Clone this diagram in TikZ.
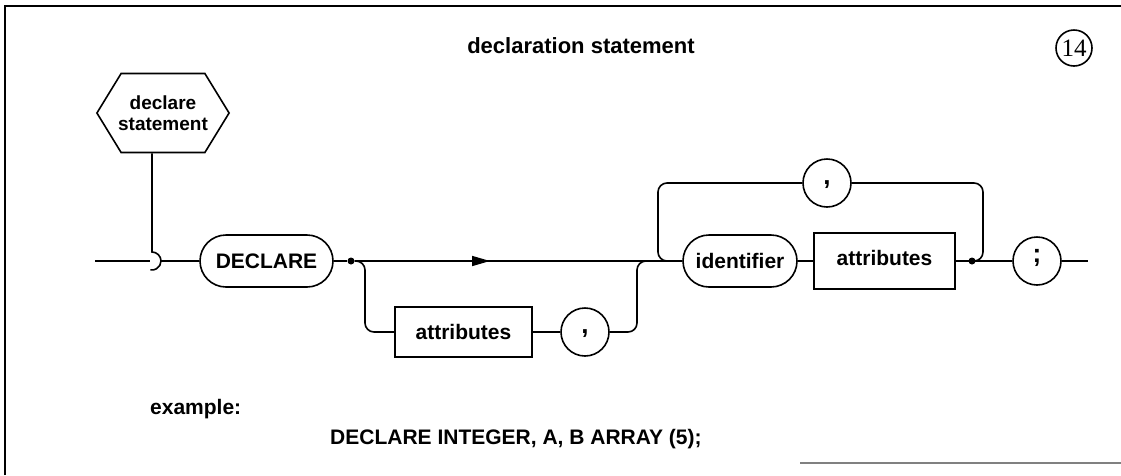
\documentclass[tikz,border=0pt]{standalone}
\usepackage{fontspec}
\setmainfont{Liberation Sans}
\newfontfamily\numfont{Liberation Serif}
\usepackage{tikz}
\usetikzlibrary{shapes.misc,shapes.symbols,arrows.meta,calc}

\tikzset{
  syn/.style={line width=1.6pt},
  term/.style={syn,draw,rounded rectangle,minimum height=52pt,inner sep=0pt,font=\fontsize{21}{22}\bfseries},
  nonterm/.style={syn,draw,rectangle,inner sep=0pt,font=\fontsize{21}{22}\bfseries},
  sym/.style={syn,draw,circle,minimum size=48pt,inner sep=0pt,text height=2pt,text depth=0pt,font=\fontsize{26}{26}\bfseries},
  junc/.style={circle,fill,inner sep=0pt,minimum size=7pt},
  lbl/.style={font=\fontsize{21}{22}\bfseries,inner sep=0pt}
}

\begin{document}
\begin{tikzpicture}[x=1pt,y=-1pt]
  \useasboundingbox (0,0) rectangle (1121,475);
  % frame
  \draw[line width=2.4pt] (5,475) -- (5,6) -- (1121,6);
  \draw[line width=1.2pt,gray] (800,463) -- (1121,463);

  \node[lbl,font=\fontsize{22}{22}\bfseries] (title) at (581,46) {declaration statement};
  \node[syn,draw,circle,minimum size=36pt,inner sep=0pt,font=\numfont\fontsize{25}{25}\selectfont] (num) at (1074,48) {14};

  \node[syn,draw,signal,signal to=east and west,signal pointer angle=117,
        minimum height=79pt,inner xsep=-3pt,inner ysep=0pt,align=center,
        font=\fontsize{19}{21}\bfseries] (decl) at (163,113) {declare\\statement};

  \coordinate (start) at (95,261);
  \coordinate (hop) at (152,261);
  \node[term,minimum width=133pt] (declare) at (266.5,261) {DECLARE};
  \node[junc] (dot1) at (351,261) {};
  \coordinate (tip) at (490,261);
  \node[nonterm,minimum width=137pt,minimum height=50pt] (attr1) at (463.5,332) {attributes};
  \node[sym] (comma1) at (585,332) {,};
  \node[term,minimum width=114pt] (ident) at (740,261) {identifier};
  \node[nonterm,minimum width=141pt,minimum height=56pt,text depth=6pt] (attr2) at (884.5,261) {attributes};
  \node[junc] (dot2) at (972,261) {};
  \node[sym] (comma2) at (827,183) {,};
  \node[sym] (semi) at (1037,261) {;};
  \coordinate (end) at (1088,261);

  % entry
  \draw[syn] (decl.south -| hop) -- ($(hop)+(0,-9)$) arc[start angle=-90,end angle=100,radius=9];
  \draw[syn] (start) -- ($(hop)+(-2,0)$);
  \draw[syn] ($(hop)+(9,0)$) -- (declare.west);
  \draw[syn] (declare.east) -- (dot1);
  \draw[syn] (dot1) -- (ident.west);
  \draw[syn,-{Triangle[length=18pt,width=10pt]}] (dot1) -- (tip);
  % attributes list
  \draw[syn,rounded corners=9] (dot1) -- (365,261) |- (attr1.west);
  \draw[syn] (attr1) -- (comma1);
  \draw[syn,rounded corners=9] (comma1.east) -| (637,261) -- (ident.west);
  % identifier loop
  \draw[syn] (ident) -- (attr2);
  \draw[syn] (attr2.east |- dot2) -- (semi.west);
  \draw[syn,rounded corners=9] (dot2) -- (983,261) |- (comma2.east);
  \draw[syn,rounded corners=9] (comma2.west) -| (658,261) -- (ident.west);
  \draw[syn] (semi.east) -- (end);

  \node[lbl,anchor=west] (ex) at (150,409) {example:};
  \node[lbl,anchor=west] (excode) at (330,439) {DECLARE INTEGER, A, B ARRAY (5);};
\end{tikzpicture}
\end{document}
